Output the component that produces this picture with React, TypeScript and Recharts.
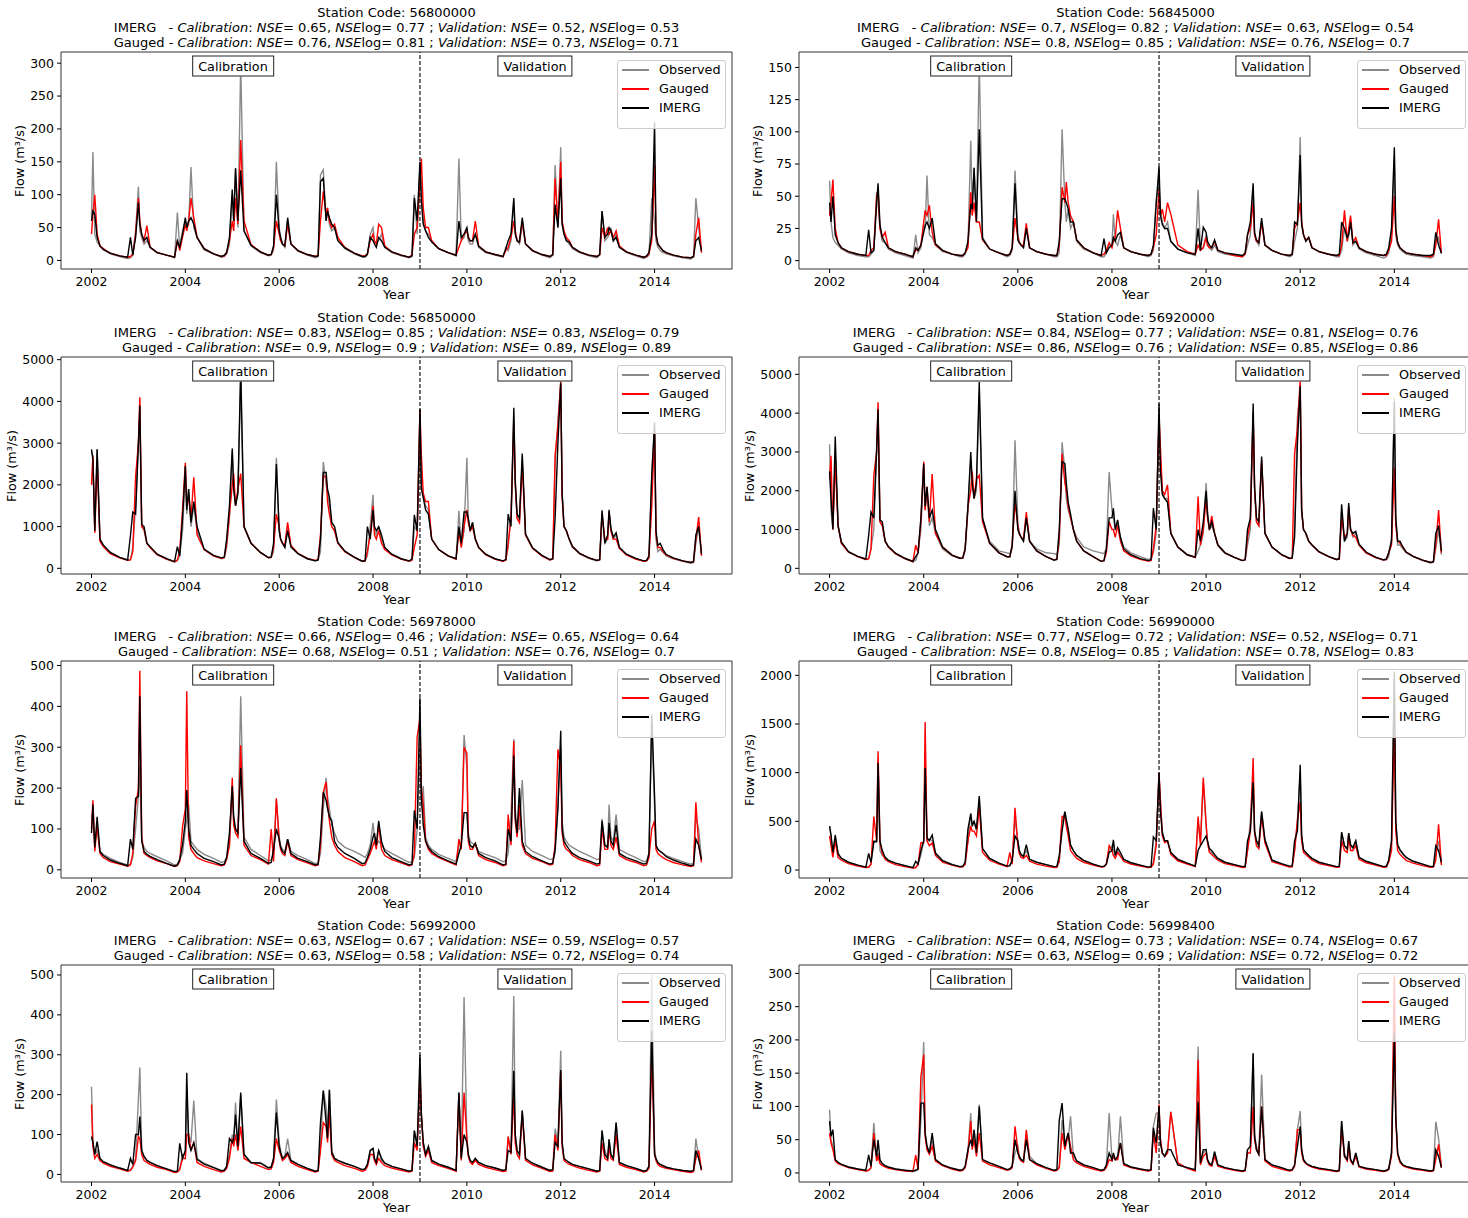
import React from 'react'
import { LineChart, Line, XAxis, YAxis, ReferenceLine, ReferenceArea } from 'recharts'

// shared sampling times (decimal years), 12 per year + end point
const T = [
  2002, 2002.03, 2002.07, 2002.12, 2002.18, 2002.25, 2002.4, 2002.6, 2002.77, 2002.83, 2002.88, 2002.94,
  2003, 2003.03, 2003.07, 2003.12, 2003.18, 2003.25, 2003.4, 2003.6, 2003.77, 2003.83, 2003.88, 2003.94,
  2004, 2004.03, 2004.07, 2004.12, 2004.18, 2004.25, 2004.4, 2004.6, 2004.77, 2004.83, 2004.88, 2004.94,
  2005, 2005.03, 2005.07, 2005.12, 2005.18, 2005.25, 2005.4, 2005.6, 2005.77, 2005.83, 2005.88, 2005.94,
  2006, 2006.03, 2006.07, 2006.12, 2006.18, 2006.25, 2006.4, 2006.6, 2006.77, 2006.83, 2006.88, 2006.94,
  2007, 2007.03, 2007.07, 2007.12, 2007.18, 2007.25, 2007.4, 2007.6, 2007.77, 2007.83, 2007.88, 2007.94,
  2008, 2008.03, 2008.07, 2008.12, 2008.18, 2008.25, 2008.4, 2008.6, 2008.77, 2008.83, 2008.88, 2008.94,
  2009, 2009.03, 2009.07, 2009.12, 2009.18, 2009.25, 2009.4, 2009.6, 2009.77, 2009.83, 2009.88, 2009.94,
  2010, 2010.03, 2010.07, 2010.12, 2010.18, 2010.25, 2010.4, 2010.6, 2010.77, 2010.83, 2010.88, 2010.94,
  2011, 2011.03, 2011.07, 2011.12, 2011.18, 2011.25, 2011.4, 2011.6, 2011.77, 2011.83, 2011.88, 2011.94,
  2012, 2012.03, 2012.07, 2012.12, 2012.18, 2012.25, 2012.4, 2012.6, 2012.77, 2012.83, 2012.88, 2012.94,
  2013, 2013.03, 2013.07, 2013.12, 2013.18, 2013.25, 2013.4, 2013.6, 2013.77, 2013.83, 2013.88, 2013.94,
  2014, 2014.03, 2014.07, 2014.12, 2014.18, 2014.25, 2014.4, 2014.6, 2014.77, 2014.83, 2014.88, 2014.94,
  2015,
]

const X_TICKS = [2002, 2004, 2006, 2008, 2010, 2012, 2014]

// ---- 56800000
const obs56800000 = [
  65, 165, 40, 28, 22, 16, 10, 6, 3, 4, 8, 45,
  112, 45, 35, 25, 30, 20, 12, 8, 4, 73, 20, 45,
  60, 50, 55, 142, 50, 35, 16, 10, 5, 6, 10, 25,
  100, 60, 140, 50, 300, 45, 22, 12, 7, 8, 15, 150,
  50, 35, 25, 20, 60, 25, 14, 8, 4, 6, 130, 138,
  60, 80, 55, 45, 50, 30, 18, 10, 5, 5, 8, 40,
  50, 30, 25, 30, 40, 20, 12, 7, 4, 6, 100, 40,
  145, 110, 60, 45, 40, 30, 18, 12, 7, 155, 30, 35,
  50, 30, 25, 25, 40, 20, 12, 8, 5, 20, 15, 30,
  90, 45, 30, 25, 55, 25, 14, 8, 4, 8, 145, 50,
  172, 55, 40, 30, 25, 18, 12, 7, 4, 8, 75, 30,
  35, 40, 50, 30, 40, 20, 12, 7, 3, 5, 8, 95,
  60, 30, 20, 15, 12, 10, 7, 4, 2, 5, 95, 50,
  12,
]
const gau56800000 = [
  40, 70, 100, 40, 22, 18, 11, 7, 5, 6, 10, 40,
  95, 60, 40, 30, 53, 20, 12, 8, 5, 30, 15, 35,
  55, 45, 60, 95, 65, 35, 18, 10, 6, 7, 12, 30,
  60, 45, 95, 55, 183, 60, 24, 13, 8, 9, 20, 60,
  40, 30, 25, 22, 55, 25, 15, 9, 6, 8, 60, 105,
  70, 80, 60, 50, 55, 35, 20, 11, 7, 7, 10, 30,
  40, 30, 25, 55, 50, 22, 13, 8, 5, 8, 40, 50,
  120, 155, 80, 50, 50, 30, 18, 12, 8, 20, 30, 40,
  45, 35, 30, 30, 60, 22, 13, 9, 6, 15, 20, 35,
  60, 45, 30, 28, 60, 25, 15, 9, 6, 9, 125, 55,
  150, 60, 45, 35, 30, 20, 13, 8, 6, 9, 50, 35,
  50, 40, 45, 35, 45, 22, 13, 8, 5, 6, 10, 30,
  145, 40, 25, 20, 15, 12, 8, 5, 4, 6, 40, 65,
  12,
]
const img56800000 = [
  60, 75, 70, 35, 22, 17, 11, 7, 5, 35, 8, 35,
  88, 55, 40, 30, 35, 20, 12, 8, 5, 30, 20, 40,
  65, 50, 60, 65, 55, 35, 18, 10, 6, 8, 12, 35,
  108, 60, 140, 60, 137, 45, 23, 13, 8, 9, 22, 100,
  45, 35, 25, 22, 65, 25, 15, 9, 6, 7, 120, 125,
  60, 75, 65, 55, 50, 30, 19, 11, 6, 6, 10, 35,
  30, 25, 20, 35, 30, 20, 13, 8, 5, 7, 95, 60,
  150, 90, 55, 45, 35, 28, 18, 12, 8, 60, 35, 40,
  50, 35, 30, 30, 40, 22, 13, 9, 6, 18, 30, 40,
  95, 40, 30, 28, 65, 25, 15, 9, 6, 9, 85, 50,
  125, 55, 40, 30, 28, 20, 13, 8, 6, 9, 75, 35,
  40, 50, 45, 30, 35, 20, 13, 8, 5, 7, 12, 40,
  210, 40, 25, 20, 15, 12, 8, 5, 4, 6, 30, 35,
  15,
]

// ---- 56845000
const obs56845000 = [
  62, 30, 18, 14, 12, 9, 6, 4, 3, 3, 5, 8,
  53, 45, 25, 15, 14, 9, 6, 4, 2, 20, 6, 10,
  28, 25, 66, 20, 18, 12, 7, 5, 3, 3, 5, 12,
  93, 40, 72, 30, 155, 18, 9, 6, 3, 4, 8, 70,
  20, 15, 12, 10, 25, 10, 7, 5, 3, 3, 6, 102,
  45, 30, 40, 25, 30, 15, 9, 6, 3, 3, 6, 12,
  12, 36, 15, 12, 20, 10, 7, 5, 3, 4, 8, 48,
  60, 40, 30, 25, 30, 15, 9, 6, 4, 55, 8, 10,
  20, 12, 10, 8, 12, 7, 5, 4, 3, 5, 12, 20,
  55, 20, 15, 12, 30, 12, 8, 5, 3, 4, 15, 25,
  96, 30, 20, 15, 18, 10, 7, 5, 3, 3, 8, 25,
  15, 20, 32, 12, 15, 9, 6, 4, 2, 3, 6, 20,
  78, 20, 12, 9, 7, 5, 4, 3, 2, 3, 15, 18,
  5,
]
const gau56845000 = [
  35, 45, 63, 25, 14, 10, 7, 5, 4, 4, 8, 10,
  50, 55, 25, 18, 22, 10, 7, 5, 3, 8, 8, 12,
  30, 39, 35, 43, 22, 12, 8, 5, 4, 4, 6, 10,
  53, 35, 45, 30, 30, 16, 9, 6, 4, 5, 10, 33,
  18, 14, 12, 12, 29, 10, 7, 5, 4, 4, 12, 57,
  45, 61, 45, 35, 30, 16, 10, 6, 4, 5, 8, 14,
  10, 15, 18, 39, 25, 10, 7, 5, 4, 5, 10, 20,
  55, 35, 40, 30, 45, 36, 12, 7, 5, 12, 8, 10,
  18, 12, 10, 10, 15, 8, 6, 4, 3, 5, 20, 25,
  45, 20, 15, 14, 30, 12, 8, 5, 4, 5, 25, 30,
  45, 30, 20, 16, 18, 10, 7, 5, 4, 4, 12, 39,
  15, 25, 35, 14, 18, 10, 7, 5, 4, 4, 8, 15,
  50, 22, 14, 10, 8, 6, 5, 4, 3, 4, 12, 32,
  6,
]
const img56845000 = [
  45, 30, 50, 20, 14, 10, 7, 5, 4, 24, 6, 8,
  45, 60, 28, 18, 14, 10, 7, 5, 3, 10, 8, 12,
  22, 27, 30, 25, 33, 13, 8, 5, 4, 4, 6, 15,
  44, 40, 72, 30, 102, 17, 9, 6, 4, 5, 10, 60,
  16, 14, 12, 10, 25, 10, 7, 5, 4, 4, 15, 48,
  48, 45, 40, 30, 30, 16, 10, 6, 4, 17, 6, 10,
  12, 18, 15, 20, 22, 10, 7, 5, 4, 5, 12, 44,
  73, 35, 28, 25, 25, 15, 9, 6, 5, 25, 8, 26,
  22, 15, 12, 10, 16, 8, 6, 5, 4, 6, 20, 30,
  60, 22, 16, 14, 33, 12, 8, 5, 4, 5, 30, 28,
  82, 28, 20, 15, 18, 10, 7, 5, 4, 5, 30, 25,
  18, 20, 30, 14, 15, 10, 7, 5, 4, 5, 10, 25,
  88, 25, 14, 10, 8, 6, 5, 4, 4, 5, 22, 12,
  6,
]

// ---- 56850000
const obs56850000 = [
  2800, 2700, 900, 2850, 700, 550, 380, 260, 200, 210, 500, 1500,
  3000, 3600, 1000, 900, 600, 500, 330, 220, 150, 180, 300, 900,
  2300, 1300, 1900, 1000, 1500, 900, 450, 300, 230, 250, 500, 1200,
  2800, 1900, 1500, 1800, 4500, 1000, 600, 380, 250, 260, 400, 2650,
  900, 700, 600, 500, 1000, 500, 350, 230, 180, 200, 400, 2550,
  2000, 1800, 1500, 1000, 900, 600, 400, 260, 160, 170, 300, 1000,
  1760, 900, 800, 1000, 700, 500, 330, 220, 170, 200, 1000, 900,
  2900, 2000, 1700, 1500, 1400, 700, 450, 300, 230, 1380, 500, 900,
  2650, 1200, 900, 1100, 700, 500, 330, 220, 170, 200, 500, 1300,
  3700, 2000, 1200, 1100, 2600, 800, 480, 300, 200, 220, 2500, 3550,
  4400, 1800, 1000, 900, 700, 500, 350, 240, 180, 200, 1300, 600,
  700, 1300, 900, 700, 800, 500, 330, 230, 170, 180, 250, 2200,
  3400, 700, 400, 450, 380, 300, 230, 170, 120, 140, 600, 1000,
  300,
]
const gau56850000 = [
  2000, 2700, 850, 2600, 650, 520, 350, 250, 190, 200, 400, 2200,
  3000, 4100, 1000, 950, 600, 500, 330, 220, 160, 200, 400, 1400,
  2530, 1500, 1700, 1200, 2180, 800, 450, 300, 240, 260, 600, 1300,
  2000, 2270, 1500, 1900, 2270, 1000, 600, 380, 250, 260, 500, 1300,
  1000, 700, 600, 550, 1100, 550, 360, 240, 190, 210, 800, 2200,
  2200, 1600, 1300, 1000, 900, 600, 400, 260, 170, 180, 400, 800,
  1500, 800, 700, 900, 600, 450, 320, 220, 170, 200, 500, 800,
  3800, 2700, 1800, 1600, 1600, 700, 450, 300, 220, 900, 500, 1000,
  1400, 1100, 900, 1000, 700, 500, 330, 220, 170, 200, 600, 1200,
  3500, 2100, 1200, 1100, 2500, 800, 480, 300, 200, 230, 2700, 3400,
  4480, 1700, 1000, 900, 700, 520, 360, 250, 190, 200, 1300, 700,
  700, 1350, 900, 700, 700, 480, 320, 220, 170, 180, 250, 1500,
  3300, 800, 500, 500, 400, 320, 240, 180, 140, 160, 700, 1230,
  300,
]
const img56850000 = [
  2850, 2600, 900, 2850, 700, 560, 380, 260, 200, 780, 1350, 1300,
  3000, 3900, 1050, 1000, 600, 520, 340, 230, 160, 520, 300, 1200,
  2450, 1400, 1900, 1100, 1600, 1000, 460, 310, 250, 270, 700, 1500,
  2870, 1900, 1500, 1800, 4830, 1000, 600, 380, 260, 270, 600, 2500,
  900, 700, 600, 500, 900, 520, 350, 230, 180, 200, 700, 2300,
  2300, 1900, 1700, 1100, 1000, 620, 410, 270, 170, 180, 1000, 700,
  1400, 1000, 900, 1000, 800, 500, 340, 230, 180, 220, 1280, 900,
  3820, 1900, 1700, 1400, 1300, 700, 450, 300, 230, 1000, 600, 1350,
  1350, 1200, 900, 1100, 700, 500, 340, 230, 180, 210, 1300, 1000,
  3850, 2100, 1300, 1200, 2750, 820, 490, 310, 210, 230, 1200, 3000,
  4450, 1800, 1000, 900, 700, 520, 360, 250, 190, 210, 1390, 600,
  800, 1400, 950, 750, 850, 500, 340, 240, 180, 190, 300, 2250,
  3500, 900, 550, 600, 450, 330, 250, 180, 140, 160, 800, 1000,
  350,
]

// ---- 56920000
const obs56920000 = [
  3200, 1500, 1000, 2900, 1100, 650, 420, 300, 230, 250, 500, 1000,
  3000, 4000, 1200, 1100, 700, 550, 380, 250, 170, 200, 400, 1000,
  2600, 1500, 2000, 1100, 1300, 900, 500, 330, 250, 260, 450, 1500,
  2800, 2300, 1800, 2000, 4500, 1300, 700, 450, 400, 380, 500, 3300,
  1200, 900, 800, 700, 1300, 700, 500, 400, 380, 350, 600, 3250,
  2500, 1800, 1500, 1300, 1000, 800, 550, 450, 400, 380, 500, 2480,
  1500, 1300, 1000, 1100, 800, 550, 400, 300, 230, 250, 400, 900,
  3800, 2800, 2000, 1800, 1800, 900, 550, 350, 280, 450, 600, 900,
  2200, 1500, 1000, 1100, 900, 600, 400, 280, 200, 220, 600, 1000,
  4000, 2000, 1200, 1100, 2700, 900, 550, 350, 250, 260, 1000, 3900,
  4600, 1500, 1000, 900, 700, 600, 420, 300, 220, 240, 1500, 700,
  800, 1500, 1000, 800, 900, 600, 400, 280, 200, 220, 300, 800,
  4400, 1300, 600, 600, 500, 400, 300, 200, 140, 160, 500, 1000,
  350,
]
const gau56920000 = [
  2300, 2900, 1000, 2800, 1100, 650, 420, 300, 230, 250, 500, 2400,
  3000, 4280, 1200, 1100, 700, 550, 380, 250, 170, 600, 400, 1200,
  2750, 1500, 2100, 1200, 2430, 900, 550, 340, 260, 270, 500, 1600,
  2000, 2500, 1800, 2300, 2400, 1200, 650, 400, 300, 300, 600, 1700,
  1100, 900, 800, 750, 1450, 700, 450, 300, 220, 240, 800, 2950,
  2200, 2000, 1600, 1300, 1000, 700, 450, 300, 180, 200, 400, 1200,
  1000, 1000, 800, 1100, 700, 450, 320, 230, 190, 200, 500, 1100,
  3950, 3100, 2000, 1900, 2150, 900, 550, 350, 280, 1850, 600, 1000,
  1800, 1300, 1000, 1350, 900, 600, 400, 280, 200, 220, 800, 1200,
  4000, 2100, 1200, 1100, 2800, 900, 550, 350, 250, 260, 2950, 3600,
  4850, 1500, 1000, 900, 700, 600, 420, 300, 230, 240, 1300, 800,
  900, 1600, 1000, 850, 800, 600, 400, 280, 220, 230, 400, 600,
  2600, 1100, 700, 650, 550, 420, 310, 210, 150, 170, 600, 1500,
  400,
]
const img56920000 = [
  2500, 1800, 1000, 3400, 1100, 680, 430, 310, 240, 850, 1450, 1300,
  3100, 4100, 1250, 1200, 700, 560, 390, 260, 180, 300, 400, 1300,
  2700, 1600, 2100, 1300, 1500, 1000, 550, 340, 260, 270, 500, 1600,
  3000, 2200, 1800, 2200, 4800, 1300, 650, 400, 300, 300, 600, 2000,
  1000, 900, 800, 700, 1300, 700, 450, 300, 210, 230, 1000, 2750,
  2700, 2200, 1700, 1400, 1000, 700, 450, 300, 180, 200, 500, 1300,
  1300, 1550, 1000, 1250, 800, 500, 350, 250, 200, 220, 1550, 1000,
  4250, 2500, 1900, 1800, 1700, 900, 550, 350, 290, 1000, 700, 1200,
  2000, 1400, 1000, 1200, 900, 600, 400, 280, 200, 220, 1000, 1300,
  4250, 2100, 1300, 1200, 2880, 900, 550, 360, 260, 270, 800, 3200,
  4700, 1500, 1000, 900, 700, 600, 430, 310, 230, 250, 1650, 700,
  900, 1680, 1000, 900, 950, 620, 420, 290, 220, 240, 400, 700,
  4300, 1300, 700, 700, 550, 420, 310, 210, 150, 170, 900, 1100,
  450,
]

// ---- 56978000
const obs56978000 = [
  135, 120, 60, 100, 45, 38, 28, 18, 12, 14, 30, 100,
  180, 255, 70, 55, 45, 40, 32, 22, 12, 14, 25, 40,
  100, 120, 160, 70, 60, 50, 38, 28, 18, 20, 30, 60,
  200, 120, 100, 90, 425, 80, 50, 35, 22, 25, 40, 170,
  80, 60, 50, 45, 75, 45, 35, 25, 15, 17, 40, 150,
  225, 180, 150, 110, 90, 70, 55, 45, 35, 30, 40, 60,
  115, 80, 60, 70, 60, 50, 40, 28, 18, 20, 30, 100,
  300, 150, 205, 80, 60, 50, 38, 28, 20, 60, 60, 330,
  250, 90, 70, 65, 60, 45, 38, 30, 20, 22, 40, 135,
  320, 150, 100, 100, 220, 60, 45, 35, 25, 27, 40, 160,
  300, 120, 80, 70, 60, 55, 45, 35, 25, 27, 125, 60,
  60, 160, 80, 70, 135, 50, 40, 30, 20, 22, 40, 360,
  150, 60, 50, 45, 40, 35, 28, 20, 14, 16, 130, 100,
  25,
]
const gau56978000 = [
  100, 170, 45, 110, 40, 30, 20, 14, 9, 12, 40, 155,
  200, 487, 80, 40, 35, 30, 22, 15, 8, 10, 20, 105,
  150, 437, 80, 50, 40, 30, 22, 15, 10, 12, 25, 60,
  225, 110, 90, 80, 305, 60, 35, 25, 14, 100, 20, 175,
  70, 50, 40, 35, 70, 35, 25, 17, 10, 12, 60, 190,
  215, 165, 120, 80, 60, 45, 30, 20, 10, 12, 25, 40,
  60, 70, 50, 110, 50, 35, 25, 17, 10, 12, 40, 325,
  370, 200, 160, 70, 50, 40, 30, 20, 12, 75, 50, 300,
  285, 70, 50, 50, 65, 35, 25, 18, 10, 12, 135, 60,
  315, 120, 80, 160, 60, 40, 28, 20, 12, 14, 60, 295,
  250, 90, 60, 50, 45, 35, 25, 18, 10, 12, 100, 50,
  50, 100, 60, 50, 80, 35, 25, 18, 10, 12, 30, 100,
  120, 50, 40, 35, 30, 25, 18, 12, 8, 10, 165, 60,
  18,
]
const img56978000 = [
  90, 160, 55, 130, 45, 35, 24, 16, 10, 75, 50, 175,
  180, 425, 70, 45, 38, 33, 25, 16, 9, 12, 25, 60,
  120, 195, 100, 60, 50, 40, 28, 20, 12, 14, 30, 90,
  205, 130, 100, 90, 250, 70, 40, 28, 16, 18, 50, 100,
  75, 55, 45, 40, 75, 40, 28, 20, 12, 14, 80, 190,
  170, 150, 130, 120, 70, 55, 40, 28, 15, 17, 30, 50,
  80, 90, 60, 120, 70, 45, 30, 20, 12, 14, 145, 100,
  420, 180, 110, 70, 55, 45, 32, 22, 14, 40, 60, 140,
  140, 80, 60, 55, 65, 40, 30, 22, 12, 14, 100, 70,
  280, 130, 90, 200, 70, 45, 32, 22, 14, 16, 50, 150,
  340, 100, 70, 60, 50, 40, 30, 22, 14, 16, 120, 60,
  55, 115, 70, 60, 110, 40, 30, 22, 14, 16, 40, 380,
  180, 60, 50, 45, 40, 32, 24, 16, 10, 12, 75, 60,
  25,
]

// ---- 56990000
const obs56990000 = [
  450, 350, 180, 330, 160, 120, 80, 50, 30, 33, 60, 300,
  300, 1150, 200, 150, 130, 100, 70, 45, 25, 28, 60, 150,
  300, 1200, 300, 320, 300, 180, 100, 60, 35, 38, 60, 300,
  580, 480, 500, 400, 700, 220, 120, 70, 40, 42, 100, 530,
  300, 200, 150, 140, 200, 110, 80, 55, 35, 37, 80, 500,
  600, 500, 400, 250, 200, 150, 100, 60, 35, 37, 60, 200,
  250, 200, 150, 200, 150, 110, 75, 50, 30, 33, 80, 300,
  950, 700, 400, 300, 300, 180, 110, 70, 40, 500, 300, 900,
  450, 300, 200, 180, 150, 120, 80, 55, 35, 37, 200, 500,
  1000, 400, 300, 250, 600, 310, 100, 65, 40, 42, 200, 500,
  1000, 350, 200, 180, 150, 120, 80, 55, 35, 37, 380, 250,
  200, 380, 250, 220, 300, 130, 90, 60, 35, 37, 100, 300,
  2000, 500, 250, 200, 160, 130, 90, 60, 35, 37, 150, 300,
  70,
]
const gau56990000 = [
  350, 250, 130, 300, 130, 100, 65, 40, 25, 28, 60, 550,
  300, 1220, 280, 170, 110, 85, 55, 35, 20, 22, 60, 280,
  280, 1520, 300, 250, 280, 150, 80, 50, 30, 32, 60, 300,
  450, 400, 400, 350, 650, 180, 100, 60, 35, 180, 60, 640,
  250, 170, 130, 120, 150, 90, 60, 40, 25, 28, 100, 550,
  550, 450, 350, 200, 160, 120, 80, 50, 30, 32, 60, 250,
  200, 150, 120, 180, 140, 90, 60, 40, 25, 28, 60, 250,
  1000, 710, 350, 280, 300, 160, 95, 60, 35, 550, 250, 950,
  480, 280, 180, 160, 130, 100, 65, 45, 25, 28, 200, 400,
  1150, 380, 250, 220, 550, 280, 85, 55, 30, 32, 200, 510,
  700, 300, 180, 160, 130, 100, 65, 45, 28, 30, 300, 200,
  180, 350, 200, 200, 250, 110, 75, 50, 28, 30, 80, 200,
  1500, 400, 200, 160, 130, 100, 70, 45, 28, 30, 100, 470,
  50,
]
const img56990000 = [
  450, 360, 180, 360, 170, 120, 80, 50, 30, 170, 80, 290,
  290, 1100, 300, 200, 130, 100, 70, 45, 25, 90, 60, 200,
  300, 1050, 330, 300, 360, 170, 95, 55, 35, 38, 80, 420,
  580, 450, 500, 420, 760, 220, 120, 70, 40, 45, 100, 350,
  300, 200, 160, 140, 260, 110, 80, 55, 35, 37, 150, 400,
  600, 520, 420, 260, 200, 150, 100, 60, 35, 38, 60, 180,
  200, 310, 150, 230, 180, 110, 75, 50, 30, 33, 340, 300,
  1000, 600, 380, 300, 300, 180, 110, 70, 40, 200, 250, 300,
  350, 300, 220, 200, 160, 120, 80, 55, 35, 38, 300, 400,
  900, 400, 300, 250, 600, 310, 100, 65, 40, 42, 300, 400,
  1080, 350, 210, 180, 150, 120, 80, 55, 35, 37, 390, 250,
  220, 380, 260, 230, 300, 130, 90, 60, 35, 38, 100, 300,
  2040, 500, 260, 210, 170, 130, 90, 60, 35, 38, 250, 200,
  80,
]

// ---- 56992000
const obs56992000 = [
  220, 80, 50, 60, 40, 32, 24, 16, 10, 12, 20, 40,
  190, 268, 60, 45, 35, 30, 22, 14, 7, 8, 15, 50,
  50, 200, 100, 80, 185, 40, 28, 18, 10, 12, 20, 50,
  100, 80, 180, 60, 200, 50, 28, 30, 18, 20, 40, 188,
  80, 60, 40, 45, 90, 35, 25, 15, 8, 10, 70, 210,
  170, 100, 212, 60, 40, 35, 28, 20, 12, 14, 25, 60,
  65, 40, 30, 60, 35, 28, 20, 14, 8, 10, 110, 80,
  200, 150, 80, 50, 70, 35, 26, 18, 10, 205, 40, 445,
  90, 50, 35, 30, 40, 30, 22, 16, 10, 12, 95, 60,
  447, 100, 60, 50, 160, 40, 28, 18, 10, 12, 115, 80,
  310, 80, 40, 35, 30, 25, 20, 14, 8, 10, 110, 60,
  40, 88, 50, 40, 130, 30, 22, 15, 8, 10, 20, 500,
  60, 40, 30, 25, 22, 18, 14, 10, 7, 9, 90, 40,
  12,
]
const gau56992000 = [
  175, 70, 40, 50, 35, 28, 20, 14, 8, 10, 18, 35,
  95, 90, 50, 35, 30, 25, 18, 12, 5, 6, 12, 40,
  40, 100, 100, 60, 80, 30, 20, 12, 6, 8, 15, 40,
  90, 70, 100, 60, 120, 40, 30, 20, 12, 14, 30, 90,
  60, 50, 35, 40, 50, 30, 20, 12, 6, 8, 60, 130,
  120, 80, 155, 50, 35, 30, 22, 15, 8, 10, 20, 50,
  50, 35, 25, 40, 30, 22, 16, 10, 6, 8, 80, 60,
  255, 150, 70, 45, 60, 30, 22, 15, 8, 200, 35, 205,
  90, 45, 30, 25, 35, 25, 18, 12, 7, 8, 95, 50,
  200, 80, 50, 40, 150, 35, 24, 15, 7, 8, 100, 60,
  260, 70, 35, 30, 25, 22, 16, 10, 6, 8, 80, 40,
  35, 70, 40, 35, 100, 25, 18, 12, 6, 8, 15, 300,
  50, 35, 25, 20, 18, 15, 12, 8, 5, 7, 40, 60,
  10,
]
const img56992000 = [
  95, 80, 50, 82, 40, 32, 24, 16, 10, 40, 25, 100,
  100, 145, 60, 45, 35, 30, 22, 14, 7, 8, 78, 40,
  60, 255, 80, 60, 80, 38, 26, 17, 9, 10, 20, 90,
  80, 90, 150, 70, 205, 50, 30, 28, 16, 18, 40, 155,
  70, 55, 40, 45, 55, 35, 25, 15, 8, 10, 130, 210,
  130, 90, 212, 55, 40, 35, 28, 20, 12, 14, 25, 60,
  65, 40, 30, 60, 40, 28, 20, 14, 8, 10, 110, 70,
  300, 150, 80, 50, 70, 35, 26, 18, 10, 205, 40, 100,
  80, 50, 35, 30, 40, 30, 22, 16, 10, 12, 60, 55,
  260, 100, 60, 50, 160, 40, 28, 18, 10, 12, 80, 70,
  262, 80, 40, 35, 30, 25, 20, 14, 8, 10, 110, 50,
  40, 88, 50, 40, 130, 30, 22, 15, 8, 10, 20, 360,
  50, 40, 30, 25, 22, 18, 14, 10, 8, 10, 60, 40,
  12,
]

// ---- 56998400
const obs56998400 = [
  95, 50, 40, 20, 16, 13, 9, 6, 3, 4, 8, 75,
  20, 30, 15, 12, 10, 8, 6, 4, 2, 3, 5, 80,
  197, 60, 40, 30, 50, 20, 12, 7, 4, 5, 8, 35,
  90, 40, 65, 30, 103, 20, 15, 10, 5, 6, 10, 30,
  40, 25, 20, 18, 60, 25, 14, 8, 4, 5, 10, 80,
  40, 50, 50, 85, 25, 18, 12, 8, 4, 5, 10, 90,
  20, 25, 20, 20, 85, 14, 9, 6, 3, 4, 70, 90,
  90, 50, 30, 25, 30, 92, 12, 8, 4, 190, 15, 30,
  35, 20, 14, 12, 32, 12, 8, 5, 3, 4, 35, 40,
  180, 60, 40, 30, 148, 20, 12, 8, 4, 5, 12, 65,
  93, 35, 20, 15, 12, 10, 7, 5, 2, 3, 78, 30,
  20, 48, 20, 14, 30, 10, 7, 5, 2, 3, 6, 30,
  250, 85, 30, 18, 12, 10, 7, 5, 3, 4, 77, 52,
  10,
]
const gau56998400 = [
  60, 45, 35, 18, 14, 12, 8, 5, 3, 4, 8, 60,
  18, 25, 14, 11, 9, 7, 5, 3, 2, 27, 5, 145,
  178, 55, 35, 28, 40, 18, 11, 6, 3, 4, 8, 30,
  78, 35, 50, 25, 60, 18, 12, 8, 4, 5, 8, 70,
  35, 22, 18, 16, 65, 20, 12, 7, 3, 4, 8, 60,
  35, 45, 60, 40, 20, 15, 10, 6, 3, 4, 8, 20,
  18, 25, 20, 20, 45, 12, 8, 5, 3, 4, 60, 30,
  103, 50, 30, 25, 30, 92, 15, 7, 3, 170, 12, 25,
  30, 18, 12, 10, 25, 10, 7, 4, 2, 3, 30, 30,
  100, 50, 35, 28, 100, 18, 10, 6, 3, 4, 10, 65,
  65, 30, 18, 14, 11, 9, 6, 4, 2, 3, 68, 25,
  18, 40, 18, 13, 25, 9, 6, 4, 2, 3, 5, 25,
  297, 80, 28, 16, 11, 9, 6, 4, 2, 3, 20, 43,
  8,
]
const img56998400 = [
  78, 55, 65, 20, 16, 13, 9, 6, 4, 27, 10, 50,
  25, 50, 20, 14, 11, 9, 6, 4, 3, 4, 6, 105,
  105, 60, 40, 30, 60, 20, 12, 7, 4, 5, 10, 35,
  50, 40, 65, 30, 100, 20, 15, 10, 5, 6, 10, 50,
  30, 25, 20, 18, 50, 20, 14, 8, 4, 5, 79, 105,
  40, 50, 60, 30, 30, 18, 12, 8, 4, 5, 12, 30,
  20, 30, 20, 25, 45, 14, 9, 6, 4, 5, 68, 45,
  100, 45, 30, 25, 35, 35, 12, 8, 5, 107, 15, 35,
  35, 20, 14, 12, 32, 12, 8, 5, 3, 4, 35, 40,
  180, 55, 35, 28, 100, 20, 12, 8, 4, 5, 12, 40,
  70, 35, 20, 15, 12, 10, 7, 5, 3, 4, 78, 25,
  20, 48, 20, 14, 30, 10, 7, 5, 3, 4, 6, 30,
  210, 85, 30, 18, 12, 10, 7, 5, 3, 4, 35, 25,
  8,
]

// NSE metrics: [cal NSE, cal NSElog, val NSE, val NSElog]
const imergScores = [
  [0.65, 0.77, 0.52, 0.53],
  [0.7, 0.82, 0.63, 0.54],
  [0.83, 0.85, 0.83, 0.79],
  [0.84, 0.77, 0.81, 0.76],
  [0.66, 0.46, 0.65, 0.64],
  [0.77, 0.72, 0.52, 0.71],
  [0.63, 0.67, 0.59, 0.57],
  [0.64, 0.73, 0.74, 0.67],
]
const gaugedScores = [
  [0.76, 0.81, 0.73, 0.71],
  [0.8, 0.85, 0.76, 0.7],
  [0.9, 0.9, 0.89, 0.89],
  [0.86, 0.76, 0.85, 0.86],
  [0.68, 0.51, 0.76, 0.7],
  [0.8, 0.85, 0.78, 0.83],
  [0.63, 0.58, 0.72, 0.74],
  [0.63, 0.69, 0.72, 0.72],
]

const stationCodes = ['56800000', '56845000', '56850000', '56920000', '56978000', '56990000', '56992000', '56998400']
const yTickSets = [
  [0, 50, 100, 150, 200, 250, 300],
  [0, 25, 50, 75, 100, 125, 150],
  [0, 1000, 2000, 3000, 4000, 5000],
  [0, 1000, 2000, 3000, 4000, 5000],
  [0, 100, 200, 300, 400, 500],
  [0, 500, 1000, 1500, 2000],
  [0, 100, 200, 300, 400, 500],
  [0, 50, 100, 150, 200, 250, 300],
]
const yDomains: [number, number][] = [
  [-13, 317],
  [-6.5, 162],
  [-136, 5064],
  [-146, 5447],
  [-20, 511],
  [-82, 2147],
  [-19, 525],
  [-13.6, 312.6],
]
const series = [
  [obs56800000, gau56800000, img56800000],
  [obs56845000, gau56845000, img56845000],
  [obs56850000, gau56850000, img56850000],
  [obs56920000, gau56920000, img56920000],
  [obs56978000, gau56978000, img56978000],
  [obs56990000, gau56990000, img56990000],
  [obs56992000, gau56992000, img56992000],
  [obs56998400, gau56998400, img56998400],
]

const X_DOMAIN: [number, number] = [2001.35, 2015.65]
const PLOT_TOP = [52, 357, 661, 965]
const PLOT_LEFT = [61, 799]
const PLOT_W = [671, 673]
const PLOT_H = 217
const FONT = 12.5
const TITLE_FONT = 13
const OBS_COLOR = '#8a8a8a'
const GAU_COLOR = '#ff0000'
const IMG_COLOR = '#000000'
const LINE_W = 1.4

function ScoreLine({ label, s }: { label: string; s: number[] }) {
  return (
    <div>
      {label} - <i>Calibration</i>: <i>NSE</i>= {s[0]}, <i>NSE</i>log= {s[1]} ; <i>Validation</i>:{' '}
      <i>NSE</i>= {s[2]}, <i>NSE</i>log= {s[3]}
    </div>
  )
}

function Panel({ idx }: { idx: number }) {
  const col = idx % 2
  const row = Math.floor(idx / 2)
  const left = PLOT_LEFT[col]
  const top = PLOT_TOP[row]
  const w = PLOT_W[col]
  const [o, g, im] = series[idx]
  const data = T.map((t, k) => ({ t, obs: o[k], gau: g[k], img: im[k] }))
  const ticks = yTickSets[idx]
  const dom = yDomains[idx]
  const wide = String(ticks[ticks.length - 1]).length >= 4
  const tickStyle = { fontSize: FONT, fill: '#000' }

  return (
    <>
      <div
        style={{
          position: 'absolute',
          left: left + w / 2,
          top: top - 47,
          transform: 'translateX(-50%)',
          textAlign: 'center',
          whiteSpace: 'pre',
          lineHeight: '15px',
          fontSize: TITLE_FONT,
        }}
      >
        <div>Station Code: {stationCodes[idx]}</div>
        <ScoreLine label="IMERG  " s={imergScores[idx]} />
        <ScoreLine label="Gauged" s={gaugedScores[idx]} />
      </div>

      <div style={{ position: 'absolute', left: left - 60, top: top - 5 }}>
        <LineChart width={60 + w + 5} height={PLOT_H + 35} data={data} margin={{ top: 5, right: 5, bottom: 0, left: 0 }}>
          <XAxis
            dataKey="t"
            type="number"
            domain={X_DOMAIN}
            allowDataOverflow
            ticks={X_TICKS}
            interval={0}
            height={30}
            axisLine={false}
            tickSize={4}
            tickMargin={4}
            tickLine={{ stroke: '#000' }}
            tick={tickStyle}
          />
          <YAxis
            type="number"
            domain={dom}
            allowDataOverflow
            ticks={ticks}
            interval={0}
            width={60}
            axisLine={false}
            tickSize={4}
            tickMargin={3}
            tickLine={{ stroke: '#000' }}
            tick={tickStyle}
          />
          <Line type="linear" dataKey="obs" stroke={OBS_COLOR} strokeWidth={LINE_W} dot={false} isAnimationActive={false} />
          <Line type="linear" dataKey="gau" stroke={GAU_COLOR} strokeWidth={LINE_W} dot={false} isAnimationActive={false} />
          <Line type="linear" dataKey="img" stroke={IMG_COLOR} strokeWidth={LINE_W} dot={false} isAnimationActive={false} />
          <ReferenceLine x={2009} stroke="#000" strokeWidth={1.1} strokeDasharray="4 2" />
          <ReferenceArea x1={X_DOMAIN[0]} x2={X_DOMAIN[1]} y1={dom[0]} y2={dom[1]} fill="none" stroke="#333" strokeWidth={1} />
        </LineChart>
      </div>

      {/* axis titles */}
      <div
        style={{
          position: 'absolute',
          left: left - (wide ? 50 : 42),
          top: top + PLOT_H / 2,
          transform: 'translate(-50%, -50%) rotate(-90deg)',
          whiteSpace: 'nowrap',
          fontSize: 12.8,
        }}
      >
        Flow (m³/s)
      </div>
      <div
        style={{
          position: 'absolute',
          left: left + w / 2,
          top: top + PLOT_H + 18,
          transform: 'translateX(-50%)',
          lineHeight: '16px',
          fontSize: 12.8,
        }}
      >
        Year
      </div>

      {/* period boxes */}
      {[
        ['Calibration', 172],
        ['Validation', 474],
      ].map(([txt, dx]) => (
        <div
          key={txt as string}
          style={{
            position: 'absolute',
            left: left + (dx as number),
            top: top + 14,
            transform: 'translate(-50%, -50%)',
            padding: '2px 5px',
            lineHeight: '15px',
            border: '1px solid #222',
            background: '#fff',
            fontSize: 12.8,
            whiteSpace: 'nowrap',
          }}
        >
          {txt}
        </div>
      ))}

      {/* legend */}
      <div
        style={{
          position: 'absolute',
          left: left + w - 6 - 109,
          top: top + 8,
          width: 109,
          height: 69,
          boxSizing: 'border-box',
          border: '1px solid #ccc',
          borderRadius: 3,
          background: 'rgba(255,255,255,0.8)',
          fontSize: 12.8,
        }}
      >
        {[
          ['Observed', OBS_COLOR],
          ['Gauged', GAU_COLOR],
          ['IMERG', IMG_COLOR],
        ].map(([name, c], k) => (
          <div key={name} style={{ position: 'absolute', left: 0, top: 1 + k * 19, height: 16, width: '100%' }}>
            <div style={{ position: 'absolute', left: 4, top: 7, width: 27, height: 2, background: c }} />
            <div style={{ position: 'absolute', left: 41, top: 0, lineHeight: '16px' }}>{name}</div>
          </div>
        ))}
      </div>
    </>
  )
}

export default function App() {
  return (
    <div
      style={{
        position: 'relative',
        width: 1468,
        height: 1218,
        overflow: 'hidden',
        background: '#fff',
        color: '#000',
        fontFamily: '"DejaVu Sans", sans-serif',
      }}
    >
      <style>{'body{margin:0}'}</style>
      {stationCodes.map((_, i) => (
        <Panel key={i} idx={i} />
      ))}
    </div>
  )
}
